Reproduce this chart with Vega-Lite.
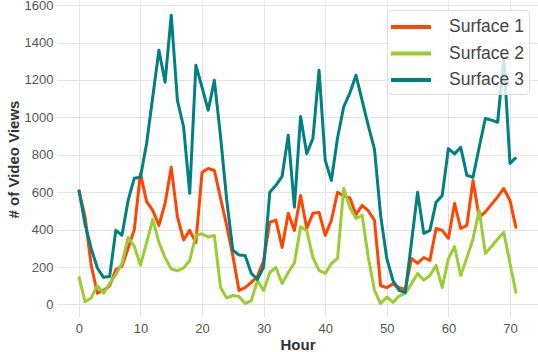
{
  "$schema": "https://vega.github.io/schema/vega-lite/v6.json",
  "width": 481,
  "height": 316,
  "autosize": {"type": "none"},
  "padding": {"left": 57, "top": 1, "right": 0, "bottom": 35},
  "background": "white",
  "data": {"values": [
{"hour":0,"surface":"Surface 1","views":610},{"hour":1,"surface":"Surface 1","views":470},{"hour":2,"surface":"Surface 1","views":210},{"hour":3,"surface":"Surface 1","views":60},{"hour":4,"surface":"Surface 1","views":75},{"hour":5,"surface":"Surface 1","views":100},{"hour":6,"surface":"Surface 1","views":185},{"hour":7,"surface":"Surface 1","views":205},{"hour":8,"surface":"Surface 1","views":300},{"hour":9,"surface":"Surface 1","views":400},{"hour":10,"surface":"Surface 1","views":700},{"hour":11,"surface":"Surface 1","views":550},{"hour":12,"surface":"Surface 1","views":503},{"hour":13,"surface":"Surface 1","views":423},{"hour":14,"surface":"Surface 1","views":540},{"hour":15,"surface":"Surface 1","views":733},{"hour":16,"surface":"Surface 1","views":470},{"hour":17,"surface":"Surface 1","views":345},{"hour":18,"surface":"Surface 1","views":396},{"hour":19,"surface":"Surface 1","views":330},{"hour":20,"surface":"Surface 1","views":706},{"hour":21,"surface":"Surface 1","views":727},{"hour":22,"surface":"Surface 1","views":717},{"hour":23,"surface":"Surface 1","views":569},{"hour":24,"surface":"Surface 1","views":421},{"hour":25,"surface":"Surface 1","views":260},{"hour":26,"surface":"Surface 1","views":75},{"hour":27,"surface":"Surface 1","views":90},{"hour":28,"surface":"Surface 1","views":118},{"hour":29,"surface":"Surface 1","views":150},{"hour":30,"surface":"Surface 1","views":235},{"hour":31,"surface":"Surface 1","views":440},{"hour":32,"surface":"Surface 1","views":450},{"hour":33,"surface":"Surface 1","views":305},{"hour":34,"surface":"Surface 1","views":487},{"hour":35,"surface":"Surface 1","views":396},{"hour":36,"surface":"Surface 1","views":583},{"hour":37,"surface":"Surface 1","views":406},{"hour":38,"surface":"Surface 1","views":487},{"hour":39,"surface":"Surface 1","views":492},{"hour":40,"surface":"Surface 1","views":369},{"hour":41,"surface":"Surface 1","views":449},{"hour":42,"surface":"Surface 1","views":600},{"hour":43,"surface":"Surface 1","views":580},{"hour":44,"surface":"Surface 1","views":570},{"hour":45,"surface":"Surface 1","views":480},{"hour":46,"surface":"Surface 1","views":530},{"hour":47,"surface":"Surface 1","views":500},{"hour":48,"surface":"Surface 1","views":450},{"hour":49,"surface":"Surface 1","views":100},{"hour":50,"surface":"Surface 1","views":90},{"hour":51,"surface":"Surface 1","views":110},{"hour":52,"surface":"Surface 1","views":90},{"hour":53,"surface":"Surface 1","views":80},{"hour":54,"surface":"Surface 1","views":246},{"hour":55,"surface":"Surface 1","views":220},{"hour":56,"surface":"Surface 1","views":251},{"hour":57,"surface":"Surface 1","views":235},{"hour":58,"surface":"Surface 1","views":406},{"hour":59,"surface":"Surface 1","views":396},{"hour":60,"surface":"Surface 1","views":353},{"hour":61,"surface":"Surface 1","views":540},{"hour":62,"surface":"Surface 1","views":406},{"hour":63,"surface":"Surface 1","views":423},{"hour":64,"surface":"Surface 1","views":663},{"hour":65,"surface":"Surface 1","views":465},{"hour":66,"surface":"Surface 1","views":495},{"hour":67,"surface":"Surface 1","views":535},{"hour":68,"surface":"Surface 1","views":575},{"hour":69,"surface":"Surface 1","views":620},{"hour":70,"surface":"Surface 1","views":556},{"hour":71,"surface":"Surface 1","views":406},
{"hour":0,"surface":"Surface 2","views":150},{"hour":1,"surface":"Surface 2","views":15},{"hour":2,"surface":"Surface 2","views":35},{"hour":3,"surface":"Surface 2","views":100},{"hour":4,"surface":"Surface 2","views":60},{"hour":5,"surface":"Surface 2","views":112},{"hour":6,"surface":"Surface 2","views":160},{"hour":7,"surface":"Surface 2","views":220},{"hour":8,"surface":"Surface 2","views":358},{"hour":9,"surface":"Surface 2","views":310},{"hour":10,"surface":"Surface 2","views":210},{"hour":11,"surface":"Surface 2","views":330},{"hour":12,"surface":"Surface 2","views":455},{"hour":13,"surface":"Surface 2","views":332},{"hour":14,"surface":"Surface 2","views":250},{"hour":15,"surface":"Surface 2","views":190},{"hour":16,"surface":"Surface 2","views":180},{"hour":17,"surface":"Surface 2","views":195},{"hour":18,"surface":"Surface 2","views":235},{"hour":19,"surface":"Surface 2","views":370},{"hour":20,"surface":"Surface 2","views":378},{"hour":21,"surface":"Surface 2","views":360},{"hour":22,"surface":"Surface 2","views":369},{"hour":23,"surface":"Surface 2","views":91},{"hour":24,"surface":"Surface 2","views":35},{"hour":25,"surface":"Surface 2","views":48},{"hour":26,"surface":"Surface 2","views":43},{"hour":27,"surface":"Surface 2","views":5},{"hour":28,"surface":"Surface 2","views":21},{"hour":29,"surface":"Surface 2","views":128},{"hour":30,"surface":"Surface 2","views":75},{"hour":31,"surface":"Surface 2","views":171},{"hour":32,"surface":"Surface 2","views":198},{"hour":33,"surface":"Surface 2","views":112},{"hour":34,"surface":"Surface 2","views":171},{"hour":35,"surface":"Surface 2","views":222},{"hour":36,"surface":"Surface 2","views":415},{"hour":37,"surface":"Surface 2","views":396},{"hour":38,"surface":"Surface 2","views":251},{"hour":39,"surface":"Surface 2","views":182},{"hour":40,"surface":"Surface 2","views":166},{"hour":41,"surface":"Surface 2","views":219},{"hour":42,"surface":"Surface 2","views":246},{"hour":43,"surface":"Surface 2","views":620},{"hour":44,"surface":"Surface 2","views":519},{"hour":45,"surface":"Surface 2","views":460},{"hour":46,"surface":"Surface 2","views":476},{"hour":47,"surface":"Surface 2","views":251},{"hour":48,"surface":"Surface 2","views":75},{"hour":49,"surface":"Surface 2","views":5},{"hour":50,"surface":"Surface 2","views":40},{"hour":51,"surface":"Surface 2","views":11},{"hour":52,"surface":"Surface 2","views":45},{"hour":53,"surface":"Surface 2","views":59},{"hour":54,"surface":"Surface 2","views":110},{"hour":55,"surface":"Surface 2","views":165},{"hour":56,"surface":"Surface 2","views":130},{"hour":57,"surface":"Surface 2","views":155},{"hour":58,"surface":"Surface 2","views":209},{"hour":59,"surface":"Surface 2","views":91},{"hour":60,"surface":"Surface 2","views":245},{"hour":61,"surface":"Surface 2","views":310},{"hour":62,"surface":"Surface 2","views":155},{"hour":63,"surface":"Surface 2","views":250},{"hour":64,"surface":"Surface 2","views":350},{"hour":65,"surface":"Surface 2","views":503},{"hour":66,"surface":"Surface 2","views":273},{"hour":67,"surface":"Surface 2","views":310},{"hour":68,"surface":"Surface 2","views":350},{"hour":69,"surface":"Surface 2","views":385},{"hour":70,"surface":"Surface 2","views":220},{"hour":71,"surface":"Surface 2","views":59},
{"hour":0,"surface":"Surface 3","views":615},{"hour":1,"surface":"Surface 3","views":430},{"hour":2,"surface":"Surface 3","views":300},{"hour":3,"surface":"Surface 3","views":195},{"hour":4,"surface":"Surface 3","views":145},{"hour":5,"surface":"Surface 3","views":150},{"hour":6,"surface":"Surface 3","views":396},{"hour":7,"surface":"Surface 3","views":370},{"hour":8,"surface":"Surface 3","views":556},{"hour":9,"surface":"Surface 3","views":675},{"hour":10,"surface":"Surface 3","views":680},{"hour":11,"surface":"Surface 3","views":860},{"hour":12,"surface":"Surface 3","views":1110},{"hour":13,"surface":"Surface 3","views":1359},{"hour":14,"surface":"Surface 3","views":1188},{"hour":15,"surface":"Surface 3","views":1546},{"hour":16,"surface":"Surface 3","views":1091},{"hour":17,"surface":"Surface 3","views":950},{"hour":18,"surface":"Surface 3","views":594},{"hour":19,"surface":"Surface 3","views":1279},{"hour":20,"surface":"Surface 3","views":1160},{"hour":21,"surface":"Surface 3","views":1038},{"hour":22,"surface":"Surface 3","views":1198},{"hour":23,"surface":"Surface 3","views":900},{"hour":24,"surface":"Surface 3","views":560},{"hour":25,"surface":"Surface 3","views":290},{"hour":26,"surface":"Surface 3","views":265},{"hour":27,"surface":"Surface 3","views":262},{"hour":28,"surface":"Surface 3","views":166},{"hour":29,"surface":"Surface 3","views":134},{"hour":30,"surface":"Surface 3","views":200},{"hour":31,"surface":"Surface 3","views":600},{"hour":32,"surface":"Surface 3","views":637},{"hour":33,"surface":"Surface 3","views":685},{"hour":34,"surface":"Surface 3","views":904},{"hour":35,"surface":"Surface 3","views":520},{"hour":36,"surface":"Surface 3","views":1005},{"hour":37,"surface":"Surface 3","views":806},{"hour":38,"surface":"Surface 3","views":887},{"hour":39,"surface":"Surface 3","views":1252},{"hour":40,"surface":"Surface 3","views":770},{"hour":41,"surface":"Surface 3","views":663},{"hour":42,"surface":"Surface 3","views":890},{"hour":43,"surface":"Surface 3","views":1056},{"hour":44,"surface":"Surface 3","views":1130},{"hour":45,"surface":"Surface 3","views":1225},{"hour":46,"surface":"Surface 3","views":1090},{"hour":47,"surface":"Surface 3","views":955},{"hour":48,"surface":"Surface 3","views":830},{"hour":49,"surface":"Surface 3","views":475},{"hour":50,"surface":"Surface 3","views":245},{"hour":51,"surface":"Surface 3","views":128},{"hour":52,"surface":"Surface 3","views":75},{"hour":53,"surface":"Surface 3","views":64},{"hour":54,"surface":"Surface 3","views":330},{"hour":55,"surface":"Surface 3","views":600},{"hour":56,"surface":"Surface 3","views":380},{"hour":57,"surface":"Surface 3","views":396},{"hour":58,"surface":"Surface 3","views":546},{"hour":59,"surface":"Surface 3","views":583},{"hour":60,"surface":"Surface 3","views":833},{"hour":61,"surface":"Surface 3","views":805},{"hour":62,"surface":"Surface 3","views":840},{"hour":63,"surface":"Surface 3","views":690},{"hour":64,"surface":"Surface 3","views":680},{"hour":65,"surface":"Surface 3","views":840},{"hour":66,"surface":"Surface 3","views":994},{"hour":67,"surface":"Surface 3","views":985},{"hour":68,"surface":"Surface 3","views":974},{"hour":69,"surface":"Surface 3","views":1316},{"hour":70,"surface":"Surface 3","views":754},{"hour":71,"surface":"Surface 3","views":786}
  ]},
  "mark": {"type": "line", "strokeWidth": 3, "strokeJoin": "round", "clip": true},
  "encoding": {
    "x": {
      "field": "hour", "type": "quantitative",
      "scale": {"domain": [-3.55, 74.55], "nice": false, "zero": false},
      "axis": {"title": "Hour", "values": [0,10,20,30,40,50,60,70], "labelPadding": 5, "titlePadding": 2}
    },
    "y": {
      "field": "views", "type": "quantitative",
      "scale": {"domain": [-67, 1622], "nice": false, "zero": false},
      "axis": {"title": "# of Video Views", "format": "d", "values": [0,200,400,600,800,1000,1200,1400,1600], "labelPadding": 4, "titlePadding": 3}
    },
    "color": {
      "field": "surface", "type": "nominal",
      "scale": {"domain": ["Surface 1", "Surface 2", "Surface 3"], "range": ["#FF4500", "#9ACD32", "#008080"]},
      "legend": {
        "title": null, "orient": "top-right", "offset": 9, "padding": 5,
        "fillColor": "rgba(255,255,255,0.8)", "strokeColor": "#dddddd", "cornerRadius": 4,
        "symbolType": "M-2,0H2", "symbolSize": 400, "symbolStrokeWidth": 4, "symbolOffset": 7,
        "labelFontSize": 17.5, "labelFont": "Liberation Sans", "labelColor": "#444444",
        "rowPadding": 5.5, "labelOffset": 26
      }
    }
  },
  "config": {
    "view": {"stroke": null},
    "axis": {
      "domain": false, "ticks": false, "grid": true, "gridColor": "#e3e3e3", "gridWidth": 1,
      "labelFont": "Liberation Sans", "labelFontSize": 13, "labelColor": "#555555",
      "titleFont": "Liberation Sans", "titleFontSize": 15, "titleFontWeight": "bold", "titleColor": "#333333"
    }
  }
}
